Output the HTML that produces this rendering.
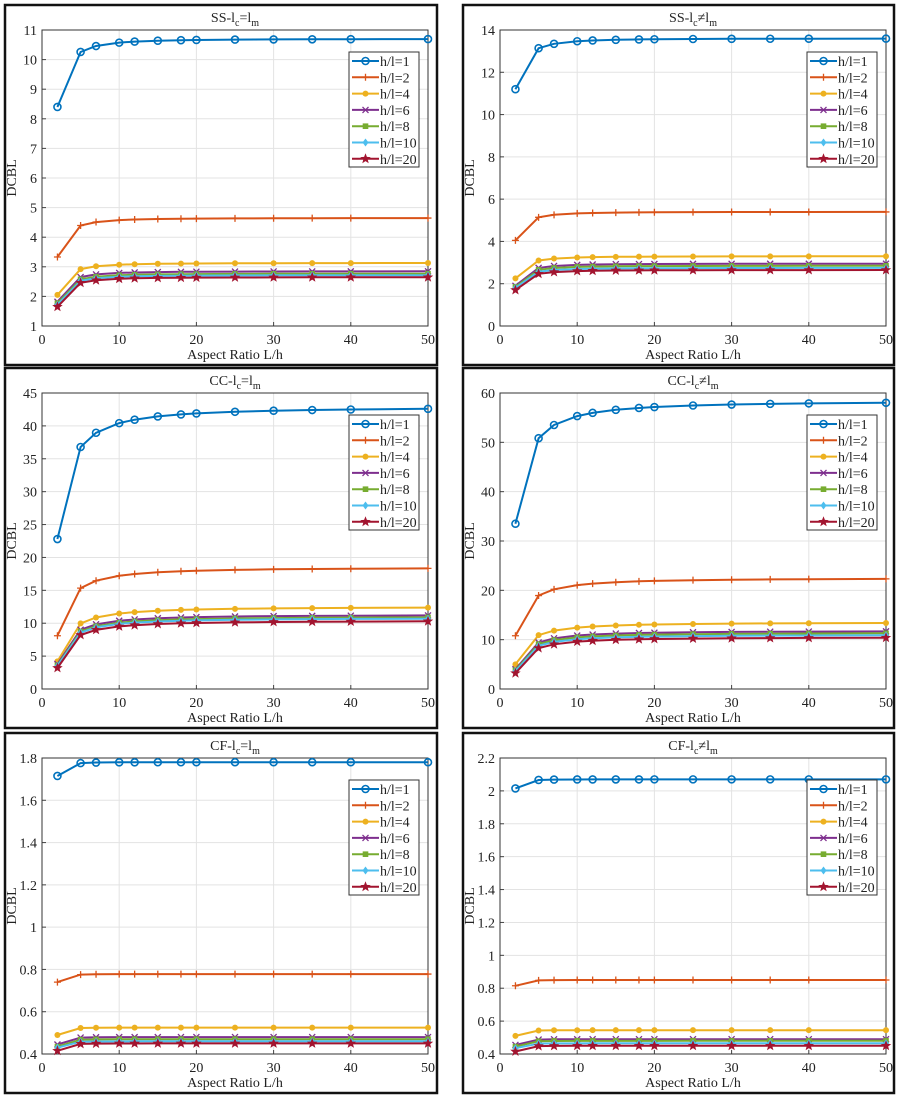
<!DOCTYPE html>
<html><head><meta charset="utf-8">
<style>
html,body{margin:0;padding:0;background:#fff;}
svg text{font-family:"Liberation Serif",serif;fill:#222;}
</style></head>
<body>
<svg id="s" width="900" height="1098" xmlns="http://www.w3.org/2000/svg"></svg>
<script>
const C=['#0072BD','#D95319','#EDB120','#7E2F8E','#77AC30','#4DBEEE','#A2142F'];
const L=['h/l=1','h/l=2','h/l=4','h/l=6','h/l=8','h/l=10','h/l=20'];
const X=[2,5,7,10,12,15,18,20,25,30,35,40,50];
const P=[
 {bx:5,by:5,t:'SS',eq:1,y0:1,y1:11,st:1,pw:1.8,dec:0,s:[[8.4,10.7],[3.33,4.65],[2.05,3.13],[1.82,2.85],[1.77,2.77],[1.72,2.72],[1.65,2.65]]},
 {bx:463,by:5,t:'SS',eq:0,y0:0,y1:14,st:2,pw:1.8,dec:0,s:[[11.2,13.6],[4.05,5.4],[2.25,3.3],[1.9,2.95],[1.85,2.85],[1.8,2.75],[1.7,2.65]]},
 {bx:5,by:368,t:'CC',eq:1,y0:0,y1:45,st:5,pw:1.3,dec:0,s:[[22.8,42.9],[8.1,18.5],[4.2,12.5],[3.8,11.3],[3.6,11.0],[3.5,10.8],[3.2,10.4]]},
 {bx:463,by:368,t:'CC',eq:0,y0:0,y1:60,st:10,pw:1.3,dec:0,s:[[33.5,58.4],[10.8,22.5],[5,13.5],[4,11.8],[3.8,11.4],[3.6,11.0],[3.2,10.5]]},
 {bx:5,by:733,t:'CF',eq:1,y0:0.4,y1:1.8,st:0.2,pw:3,dec:1,s:[[1.715,1.78],[0.74,0.778],[0.49,0.525],[0.445,0.48],[0.435,0.47],[0.43,0.46],[0.415,0.45]]},
 {bx:463,by:733,t:'CF',eq:0,y0:0.4,y1:2.2,st:0.2,pw:3,dec:1,s:[[2.015,2.07],[0.815,0.85],[0.51,0.545],[0.455,0.49],[0.445,0.48],[0.435,0.465],[0.415,0.45]]}
];
function fmt(v,dec){let r=Math.round(v*10)/10; if(!dec) return String(Math.round(v)); return String(r);}
function mk(i,x,y,c){
 switch(i){
 case 0:return `<circle cx="${x}" cy="${y}" r="3.5" fill="none" stroke="${c}" stroke-width="1.6"/>`;
 case 1:return `<path d="M${x-3.5} ${y}h7M${x} ${y-3.5}v7" stroke="${c}" stroke-width="1.3"/>`;
 case 2:return `<circle cx="${x}" cy="${y}" r="3" fill="${c}"/>`;
 case 3:return `<path d="M${x-3} ${y-3}l6 6M${x-3} ${y+3}l6 -6" stroke="${c}" stroke-width="1.3"/>`;
 case 4:return `<rect x="${x-2.8}" y="${y-2.8}" width="5.6" height="5.6" fill="${c}"/>`;
 case 5:return `<path d="M${x} ${y-4}L${x+3} ${y}L${x} ${y+4}L${x-3} ${y}Z" fill="${c}"/>`;
 case 6:{let p=[];for(let k=0;k<10;k++){let r=k%2?2.3:5.5,a=-Math.PI/2+k*Math.PI/5;p.push((x+r*Math.cos(a)).toFixed(1)+','+(y+r*Math.sin(a)).toFixed(1));}return `<polygon points="${p.join(' ')}" fill="${c}"/>`;}
 }
}
let o='';
P.forEach(p=>{
 const w=p.bx===5?432:431;
 o+=`<rect x="${p.bx}" y="${p.by}" width="${w}" height="360" fill="#fff" stroke="#111" stroke-width="2.5"/>`;
 const l=p.bx+37,r=l+386,t=p.by+25,b=t+296;
 const sx=v=>l+(v/50)*386, sy=v=>b-(v-p.y0)/(p.y1-p.y0)*296;
 for(let v=10;v<50;v+=10)o+=`<line x1="${sx(v)}" y1="${t}" x2="${sx(v)}" y2="${b}" stroke="#e3e3e3"/>`;
 const n=Math.round((p.y1-p.y0)/p.st);
 for(let k=0;k<=n;k++){const v=p.y0+k*p.st,y=sy(v);
  if(k>0&&k<n)o+=`<line x1="${l}" y1="${y}" x2="${r}" y2="${y}" stroke="#e3e3e3"/>`;
  o+=`<line x1="${l}" y1="${y}" x2="${l+4}" y2="${y}" stroke="#444"/>`;
  o+=`<text x="${l-5}" y="${y+5}" font-size="14" text-anchor="end">${p.dec?fmt(v,1):fmt(v,0)}</text>`;}
 for(let v=0;v<=50;v+=10){o+=`<line x1="${sx(v)}" y1="${b}" x2="${sx(v)}" y2="${b-4}" stroke="#444"/>`;
  o+=`<text x="${sx(v)}" y="${b+18}" font-size="14" text-anchor="middle">${v}</text>`;}
 o+=`<rect x="${l}" y="${t}" width="386" height="296" fill="none" stroke="#333" stroke-width="1"/>`;
 p.s.forEach((s,i)=>{
  const pts=X.map(x=>[sx(x),sy(s[1]-(s[1]-s[0])*Math.pow(2/x,p.pw))]);
  o+=`<polyline points="${pts.map(q=>q[0].toFixed(1)+','+q[1].toFixed(1)).join(' ')}" fill="none" stroke="${C[i]}" stroke-width="2"/>`;
  pts.forEach(q=>o+=mk(i,q[0],q[1],C[i]));
 });
 const lx=r-79,ly=t+22;
 o+=`<rect x="${lx}" y="${ly}" width="70" height="115" fill="#fff" stroke="#333" stroke-width="1"/>`;
 L.forEach((s,i)=>{const y=ly+9+i*16.3;
  o+=`<line x1="${lx+3}" y1="${y}" x2="${lx+30}" y2="${y}" stroke="${C[i]}" stroke-width="2"/>`+mk(i,lx+16.5,y,C[i]);
  o+=`<text x="${lx+31}" y="${y+5}" font-size="14">${s}</text>`;});
 const cx=(l+r)/2;
 o+=`<text x="${cx}" y="${p.by+17}" font-size="14" text-anchor="middle">${p.t}-l<tspan font-size="10" dy="4">c</tspan><tspan dy="-4">${p.eq?'=':'≠'}l</tspan><tspan font-size="10" dy="4">m</tspan></text>`;
 o+=`<text x="${cx}" y="${b+33}" font-size="14" text-anchor="middle">Aspect Ratio L/h</text>`;
 o+=`<text transform="translate(${p.bx+11},${(t+b)/2}) rotate(-90)" font-size="14" text-anchor="middle">DCBL</text>`;
});
document.getElementById('s').innerHTML=o;
</script>
</body></html>
